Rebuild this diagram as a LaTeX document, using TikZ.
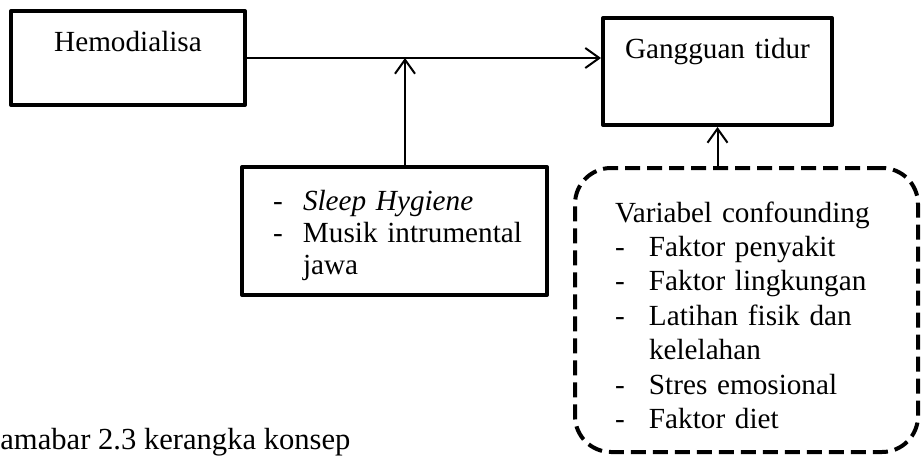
\documentclass[tikz,border=0pt]{standalone}
\usepackage{fontspec}
\setmainfont{Liberation Serif}
\usetikzlibrary{arrows.meta}
\usetikzlibrary{positioning}
\newcommand{\dashitem}[1][15pt]{\makebox[#1][l]{-}}

\begin{document}
\begin{tikzpicture}[line cap=round,line join=round,x=0.5pt,y=-0.5pt,
  box/.style={draw,line width=2pt,rectangle,inner sep=0pt,font=\fontsize{14.6}{16}\selectfont},
  confbox/.style={box,dash pattern=on 7.5pt off 3.5pt,rounded corners=18pt,line cap=butt,font=\fontsize{14.6}{17.2}\selectfont},
  arr/.style={line width=1pt,-{Straight Barb[length=7pt,width=10pt]}}]
\useasboundingbox (0,0) rectangle (921,456);
\node[box,text width=117pt,align=center,text height=20pt,text depth=27pt] (hemo) at (128,58) {Hemodialisa};
\node[box,text width=114.5pt,align=center,text height=20pt,text depth=33.5pt] (gang) at (717.5,71.5) {Gangguan tidur};
\node[box,text width=152.5pt,align=left,text height=21.5pt,text depth=42.5pt] (terapi) at (394.5,231)
  {\hspace*{15.5pt}\dashitem\textit{Sleep Hygiene}\\ \hspace*{15.5pt}\dashitem Musik intrumental\\ \hspace*{30.5pt}jawa};
\node[confbox,text width=151.5pt,inner xsep=10pt,align=left,text height=27pt,text depth=115pt] (conf) at (746.5,310)
  {\hspace*{10pt}Variabel confounding\\ \hspace*{10pt}\dashitem[17pt]Faktor penyakit\\ \hspace*{10pt}\dashitem[17pt]Faktor lingkungan\\ \hspace*{10pt}\dashitem[17pt]Latihan fisik dan\\ \hspace*{27pt}kelelahan\\ \hspace*{10pt}\dashitem[17pt]Stres emosional\\ \hspace*{10pt}\dashitem[17pt]Faktor diet};
\coordinate (temu) at (405,58);
\draw[arr] (hemo.east) -- (hemo.east -| gang.west);
\draw[arr] (temu |- terapi.north) -- (temu);
\draw[arr] (gang.south |- conf.north) -- (gang.south);
\node[anchor=base west,inner sep=0pt,font=\fontsize{15.3}{17}\selectfont] (judul) at (0,449) {amabar 2.3 kerangka konsep};
\end{tikzpicture}
\end{document}
